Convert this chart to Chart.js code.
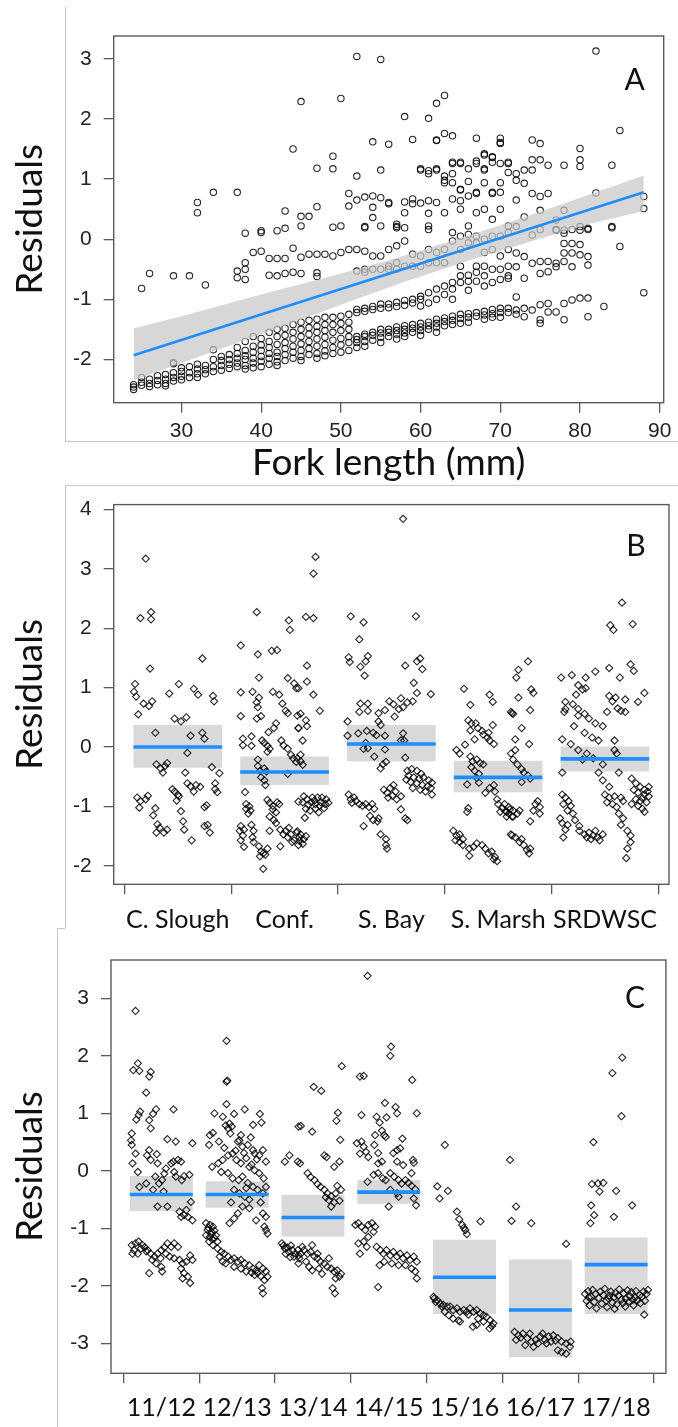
<!DOCTYPE html>
<html>
<head>
<meta charset="utf-8">
<title>Residuals by fork length, site and year</title>
<script src="https://cdn.jsdelivr.net/npm/chart.js@4.4.1/dist/chart.umd.min.js"></script>
<style>
  body { margin: 0; background: #fff; }
  .page { position: relative; width: 678px; height: 1427px; overflow: hidden; }
  canvas { position: absolute; left: 0; }
  .edge { position: absolute; border: 0 solid #c8c8c8; }
</style>
</head>
<body>
<div class="page">
  <canvas id="chartA" width="678" height="485" style="top:0"></canvas>
  <canvas id="chartB" width="678" height="462" style="top:480px"></canvas>
  <canvas id="chartC" width="678" height="499" style="top:928px"></canvas>
  <div class="edge" style="left:65px;top:7px;height:434px;border-left-width:1px"></div>
  <div class="edge" style="left:65px;top:441px;width:613px;border-top-width:1px"></div>
  <div class="edge" style="left:65px;top:485px;width:613px;border-top-width:1px"></div>
  <div class="edge" style="left:65px;top:485px;height:443px;border-left-width:1px"></div>
  <div class="edge" style="left:57px;top:928px;width:8px;border-top-width:1px"></div>
  <div class="edge" style="left:57px;top:928px;height:499px;border-left-width:1px"></div>
</div>
<script>
'use strict'

// ---- panel A: residuals against fork length ----
const lengthTicks = [30, 40, 50, 60, 70, 80, 90]
const residualTicksA = [-2, -1, 0, 1, 2, 3]

// each row: fork length (mm), then the residuals of fish at that length
const residualsByLength = [
  [24, -2.42, -2.46, -2.5],
  [25, -2.3, -2.38, -2.43, -0.82],
  [26, -2.33, -2.4, -2.45, -0.57],
  [27, -2.27, -2.35, -2.42],
  [28, -2.25, -2.33, -2.4, -2.44],
  [29, -2.05, -2.07, -2.22, -2.3, -2.36, -0.61],
  [30, -2.14, -2.2, -2.28, -2.34],
  [31, -2.12, -2.22, -2.3, -0.61],
  [32, -2.08, -2.16, -2.24, -2.3, 0.61, 0.44],
  [33, -2.1, -2.17, -2.24, -0.76],
  [34, -1.84, -2.0, -2.12, -2.2, 0.78],
  [35, -1.95, -2.02, -2.1, -2.18],
  [36, -1.92, -2.0, -2.08, -2.15],
  [37, -1.8, -1.9, -1.98, -2.06, -2.12, -0.53, -0.64, 0.78],
  [38, -1.7, -1.85, -1.94, -2.0, -2.1, -2.16, -0.39, -0.5, -0.67, 0.1],
  [39, -1.62, -1.78, -1.88, -1.98, -2.06, -2.14, -0.22],
  [40, -1.65, -1.76, -1.85, -1.95, -2.03, -2.12, -0.2, 0.11, 0.14],
  [41, -1.55, -1.7, -1.8, -1.9, -1.98, -2.08, -0.32, -0.6],
  [42, -1.5, -1.62, -1.75, -1.88, -1.95, -2.04, -2.1, -0.32, -0.61, 0.14],
  [43, -1.48, -1.6, -1.72, -1.82, -1.92, -2.02, -0.32, -0.57, 0.18, 0.47],
  [44, -1.42, -1.55, -1.66, -1.78, -1.88, -1.98, -0.15, -0.55, 1.5],
  [45, -1.38, -1.5, -1.62, -1.74, -1.85, -1.95, -2.02, -0.3, -0.57, 0.22, 0.38, 2.29],
  [46, -1.35, -1.47, -1.58, -1.7, -1.82, -1.92, -0.25, 0.38],
  [47, -1.33, -1.45, -1.55, -1.66, -1.78, -1.9, -1.98, -0.25, -0.56, -0.62, 0.54, 1.18],
  [48, -1.3, -1.42, -1.52, -1.63, -1.75, -1.86, -1.94, -0.25],
  [49, -1.3, -1.42, -1.55, -1.68, -1.8, -1.9, -0.28, 0.2, 1.17, 1.38],
  [50, -1.28, -1.4, -1.52, -1.65, -1.76, -1.88, -0.22, 0.22, 2.34],
  [51, -1.25, -1.38, -1.5, -1.62, -1.72, -1.85, -0.17, 0.55, 0.76],
  [52, -1.17, -1.22, -1.62, -1.67, -1.72, -1.8, -0.17, -0.53, 0.65, 1.05, 3.04],
  [53, -1.15, -1.2, -1.58, -1.62, -1.7, -1.78, -0.2, -0.5, -0.55, 0.19, 0.21, 0.7],
  [54, -1.12, -1.17, -1.55, -1.6, -1.68, -0.28, -0.5, 0.36, 0.53, 0.72, 1.62],
  [55, -1.08, -1.15, -1.5, -1.56, -1.63, -1.72, -0.28, -0.5, 0.22, 0.69, 1.15, 2.99],
  [56, -1.08, -1.14, -1.5, -1.55, -1.62, -0.17, -0.45, -0.5, 0.59, 0.61, 1.58],
  [57, -1.05, -1.12, -1.46, -1.52, -1.58, -1.66, -0.11, -0.39, -0.5, 0.19, 0.21, 0.25],
  [58, -1.02, -1.1, -1.44, -1.5, -1.56, -1.62, -0.03, -0.45, 0.19, 0.44, 0.62, 2.04],
  [59, -1.0, -1.06, -1.42, -1.48, -1.55, -0.25, -0.45, 0.59, 0.67, 1.66],
  [60, -0.95, -1.0, -1.11, -1.4, -1.46, -1.52, -1.6, -0.28, -0.45, 0.6, 1.15, 1.17],
  [61, -0.89, -1.06, -1.38, -1.44, -1.5, -0.17, -0.39, 0.16, 0.22, 0.43, 0.64, 1.09, 1.14, 2.01],
  [62, -0.83, -1.0, -1.33, -1.4, -1.46, -1.55, -0.22, -0.39, 0.61, 1.15, 1.17, 1.64, 1.65, 2.26],
  [63, -0.78, -0.92, -1.31, -1.37, -1.44, -0.17, -0.39, 0.44, 0.94, 0.98, 1.05, 1.76, 2.39],
  [64, -0.72, -0.83, -1.0, -1.28, -1.35, -1.42, -0.03, 0.11, 0.67, 0.94, 1.09, 1.26, 1.28, 1.72],
  [65, -0.45, -0.61, -0.72, -1.25, -1.32, -1.4, -0.17, 0.05, 0.5, 0.64, 0.82, 0.83, 1.26, 1.28],
  [66, -0.6, -0.7, -0.85, -1.24, -1.3, -1.38, -0.06, 0.08, 0.22, 0.72, 0.96, 1.17],
  [67, -0.45, -0.55, -0.7, -1.22, -1.28, -0.06, 0.05, 0.44, 0.76, 0.78, 1.26, 1.3, 1.68],
  [68, -0.22, -0.45, -0.61, -0.78, -1.2, -1.26, -1.33, 0.0, 0.5, 0.94, 1.15, 1.17, 1.4, 1.42],
  [69, -0.17, -0.5, -0.72, -1.17, -1.24, -1.3, 0.05, 0.33, 0.76, 0.78, 1.28, 1.36, 1.37],
  [70, -0.28, -0.5, -0.67, -1.15, -1.22, -1.3, 0.05, 0.5, 0.78, 0.94, 1.26, 1.59, 1.61, 1.68],
  [71, -0.17, -0.45, -0.61, -0.65, -1.15, -1.22, 0.11, 0.22, 1.11, 1.26, 1.28],
  [72, -0.23, -0.46, -0.96, -1.18, -1.25, 0.21, 0.65, 0.98, 1.09],
  [73, -0.29, -0.65, -1.15, -1.29, 0.37, 0.93, 1.15],
  [74, -0.4, -1.18, 0.07, 0.76, 1.15, 1.32, 1.65],
  [75, -0.37, -0.57, -1.09, -1.34, -1.4, 0.16, 0.48, 0.71, 1.32, 1.59],
  [76, -0.37, -0.54, -1.07, -1.21, 0.76, 1.23],
  [77, -0.4, -0.46, -1.21, 0.15, 0.16, 0.32],
  [78, -0.07, -0.23, -0.37, -1.07, -1.34, 0.1, 0.15, 0.48, 1.23],
  [79, -0.07, -0.23, -0.46, -1.01, 0.16],
  [80, -0.09, -0.26, -0.98, 0.15, 0.21, 1.21, 1.32, 1.51],
  [81, -0.29, -0.43, -0.98, -1.29, 0.16, 0.18],
  [82, 0.77, 3.13],
  [83, -1.12],
  [84, 0.19, 0.21, 1.23],
  [85, -0.12, 1.81],
  [88, -0.89, 0.51, 0.71]
]

// fitted line and its confidence band
const fitLength = [24, 88]
const fitResidual = [-1.93, 0.78]
const bandLength = [24, 30, 40, 50, 58, 66, 74, 82, 88]
const bandUpper = [-1.48, -1.28, -0.92, -0.57, -0.27, 0.06, 0.41, 0.78, 1.06]
const bandLower = [-2.35, -2.06, -1.58, -1.09, -0.71, -0.36, -0.03, 0.28, 0.47]

// ---- panel B: residuals by site ----
const siteNames = ['C. Slough', 'Conf.', 'S. Bay', 'S. Marsh', 'SRDWSC']
const siteMeans = [0.0, -0.42, 0.05, -0.51, -0.2]
const siteLow = [-0.35, -0.64, -0.24, -0.76, -0.41]
const siteHigh = [0.37, -0.16, 0.37, -0.23, 0.01]
const residualTicksB = [-2, -1, 0, 1, 2, 3, 4]

// each point: [jitter from the site position, residual]
const sitePoints = [
  [[-0.3, 3.17], [-0.35, 2.17], [-0.25, 2.27], [-0.25, 2.15], [-0.26, 1.32], [0.23, 1.49], [-0.4, 1.06], [-0.41, 0.93],
    [-0.39, 0.85], [-0.37, 0.55], [-0.32, 0.73], [-0.27, 0.69], [-0.24, 0.77], [-0.08, 0.9], [0.01, 1.06], [0.15, 0.98],
    [0.19, 0.88], [0.33, 0.86], [0.34, 0.77], [-0.21, 0.24], [-0.03, 0.48], [0.03, 0.43], [0.08, 0.5], [0.12, 0.19],
    [0.23, 0.24], [0.25, 0.14], [0.09, -0.1], [-0.2, -0.29], [-0.16, -0.36], [-0.12, -0.32], [-0.1, -0.27], [-0.14, -0.43],
    [0.07, -0.43], [0.32, -0.34], [0.39, -0.44], [-0.05, -0.71], [-0.03, -0.75], [0.0, -0.8], [0.09, -0.61], [0.12, -0.66],
    [0.17, -0.64], [0.21, -0.67], [0.15, -0.75], [0.35, -0.61], [0.35, -0.71], [0.37, -0.76], [-0.38, -0.85], [-0.35, -0.91],
    [-0.3, -0.88], [-0.28, -0.82], [-0.36, -1.02], [-0.01, -0.9], [0.01, -0.83], [-0.21, -1.03], [-0.23, -1.15], [0.03, -1.08],
    [0.25, -1.01], [0.27, -0.98], [-0.19, -1.3], [-0.17, -1.36], [-0.2, -1.44], [-0.13, -1.44], [-0.1, -1.39], [0.05, -1.25],
    [0.06, -1.39], [0.13, -1.57], [0.25, -1.33], [0.28, -1.31], [0.3, -1.44]],
  [[-0.26, 2.27], [-0.41, 1.71], [-0.25, 1.56], [-0.12, 1.62], [-0.07, 1.63], [0.04, 2.13], [0.05, 1.97], [-0.24, 1.17],
    [0.03, 1.16], [0.09, 1.07], [0.11, 0.99], [-0.41, 0.92], [-0.3, 0.93], [-0.24, 0.83], [-0.26, 0.75], [-0.25, 0.67],
    [-0.26, 0.48], [-0.22, 0.52], [-0.41, 0.52], [-0.11, 0.93], [-0.05, 0.88], [-0.02, 0.73], [0.01, 0.61], [0.03, 0.57],
    [0.12, 0.53], [0.13, 0.32], [-0.08, 0.4], [-0.1, 0.32], [-0.15, 0.25], [-0.39, 0.14], [-0.39, 0.03], [-0.31, 0.18],
    [-0.31, 0.02], [-0.21, 0.11], [-0.19, 0.07], [-0.16, 0.02], [-0.14, -0.03], [-0.16, -0.08], [-0.03, 0.11], [-0.01, 0.03],
    [0.03, -0.03], [0.03, -0.45], [0.06, -0.13], [0.08, -0.19], [0.11, -0.25], [0.15, -0.13], [-0.25, -0.21], [-0.25, -0.32],
    [-0.23, -0.4], [-0.19, -0.36], [-0.17, -0.41], [-0.22, -0.51], [-0.19, -0.56], [-0.18, -0.64], [-0.37, -0.76],
    [-0.36, -0.96], [-0.33, -1.0], [-0.36, -1.04], [-0.32, -1.07], [-0.34, -1.12], [-0.16, -0.89], [-0.14, -0.94],
    [-0.11, -0.99], [-0.07, -0.93], [-0.05, -0.96], [-0.11, -1.05], [-0.08, -1.1], [-0.14, -1.17], [-0.1, -1.23],
    [-0.08, -1.28], [-0.14, -1.41], [-0.41, -1.33], [-0.42, -1.41], [-0.38, -1.39], [-0.39, -1.49], [-0.41, -1.57],
    [-0.38, -1.68], [-0.31, -1.31], [-0.29, -1.41], [-0.3, -1.52], [-0.29, -1.6], [-0.24, -1.67], [-0.22, -1.76],
    [-0.2, -1.79], [-0.23, -1.84], [-0.16, -1.71], [-0.18, -1.81], [-0.2, -2.05], [-0.04, -1.39], [-0.01, -1.47],
    [0.01, -1.41], [0.03, -1.52], [0.04, -1.36], [0.06, -1.47], [0.09, -1.57], [0.11, -1.44], [0.14, -1.52], [0.13, -1.65],
    [-0.04, -1.67], [0.07, -1.6], [0.29, 3.2], [0.27, 2.92], [0.2, 2.19], [0.27, 2.17], [0.21, 1.37], [0.21, 1.1],
    [0.27, 0.88], [0.33, 0.61], [0.15, 0.56], [0.2, 0.45], [0.21, 0.35], [0.13, 0.32], [0.17, 0.11], [0.13, 0.99],
    [0.12, -0.19], [0.15, -0.24], [0.17, -0.3], [0.18, -0.83], [0.21, -0.88], [0.26, -0.85], [0.31, -0.85], [0.35, -0.85],
    [0.39, -0.88], [0.17, -0.93], [0.22, -0.97], [0.25, -0.93], [0.29, -0.96], [0.34, -0.93], [0.38, -0.96], [0.2, -1.04],
    [0.24, -1.07], [0.29, -1.04], [0.32, -1.1], [0.37, -1.03], [0.41, -0.94], [0.19, -1.19], [0.13, -0.92], [0.28, -0.9],
    [0.33, -0.99], [0.12, -1.42], [0.15, -1.47], [0.18, -1.55], [0.14, -1.58], [0.17, -1.63], [0.2, -1.5]],
  [[0.11, 3.84], [-0.38, 2.2], [-0.26, 2.1], [-0.3, 1.81], [-0.4, 1.51], [-0.39, 1.43], [-0.29, 1.35], [-0.24, 1.44],
    [-0.22, 1.53], [-0.25, 1.2], [0.23, 2.2], [0.13, 1.37], [0.24, 1.44], [0.27, 1.49], [0.29, 1.31], [0.21, 1.08],
    [0.24, 0.91], [0.37, 0.89], [-0.29, 0.73], [-0.22, 0.73], [-0.3, 0.59], [-0.22, 0.61], [-0.12, 0.57], [-0.06, 0.62],
    [-0.02, 0.77], [0.02, 0.72], [0.07, 0.64], [0.11, 0.67], [0.09, 0.82], [0.15, 0.75], [0.2, 0.77], [0.03, 0.51],
    [-0.41, 0.43], [-0.12, 0.43], [-0.1, 0.37], [-0.06, 0.19], [-0.41, 0.19], [-0.31, 0.23], [-0.23, 0.27], [-0.17, 0.24],
    [-0.14, 0.2], [-0.24, 0.07], [-0.26, -0.03], [-0.22, -0.02], [-0.16, -0.16], [-0.1, -0.36], [-0.08, -0.29],
    [-0.05, -0.25], [-0.06, -0.04], [0.11, 0.23], [0.09, 0.11], [0.12, 0.11], [0.13, -0.18], [0.15, -0.4], [0.19, -0.37],
    [0.24, -0.4], [0.28, -0.45], [0.16, -0.48], [0.21, -0.51], [0.26, -0.53], [0.3, -0.51], [0.35, -0.56], [0.18, -0.59],
    [0.24, -0.61], [0.29, -0.64], [0.34, -0.66], [0.38, -0.6], [0.2, -0.69], [0.27, -0.72], [0.32, -0.75], [0.38, -0.8],
    [0.14, -0.55], [0.37, -0.69], [-0.4, -0.8], [-0.38, -0.88], [-0.35, -0.85], [-0.33, -0.91], [-0.3, -0.96],
    [-0.37, -0.94], [-0.27, -0.99], [-0.24, -0.96], [-0.21, -1.01], [-0.18, -0.96], [-0.16, -1.04], [-0.12, -1.2],
    [-0.26, -1.33], [-0.13, -1.25], [-0.2, -1.16], [-0.17, -1.23], [-0.07, -0.72], [-0.04, -0.77], [-0.01, -0.69],
    [0.01, -0.82], [0.04, -0.75], [0.05, -0.88], [0.09, -0.83], [0.02, -0.64], [-0.03, -0.85], [0.09, -1.05], [0.13, -1.2],
    [0.15, -1.23], [-0.1, -1.47], [-0.05, -1.55], [-0.05, -1.65], [-0.04, -1.71]],
  [[-0.32, 0.98], [-0.26, 0.71], [-0.08, 0.88], [-0.05, 0.76], [0.13, 0.57], [-0.28, 0.45], [-0.25, 0.4], [-0.21, 0.4],
    [-0.26, 0.28], [-0.19, 0.32], [-0.15, 0.27], [-0.14, 0.21], [-0.1, 0.16], [-0.08, 0.11], [-0.04, 0.05], [-0.09, 0.24],
    [-0.05, 0.37], [-0.22, 0.13], [-0.31, 0.04], [-0.39, -0.05], [-0.36, -0.11], [-0.26, -0.16], [-0.24, -0.24],
    [-0.2, -0.21], [-0.17, -0.27], [-0.14, -0.29], [-0.25, -0.34], [-0.22, -0.4], [-0.18, -0.45], [-0.2, -0.52],
    [-0.18, -0.6], [-0.29, -0.63], [-0.12, -0.77], [-0.08, -0.69], [-0.04, -0.64], [-0.03, -0.75], [-0.01, -0.88],
    [0.0, -0.96], [0.04, -1.03], [0.07, -1.08], [0.1, -1.12], [0.11, -1.05], [0.02, -1.09], [0.08, -1.17], [0.13, -1.17],
    [-0.28, -1.03], [-0.29, -1.09], [0.13, -1.49], [-0.42, -1.41], [-0.39, -1.49], [-0.4, -1.57], [-0.36, -1.47],
    [-0.33, -1.55], [-0.36, -1.6], [-0.33, -1.65], [-0.27, -1.71], [-0.27, -1.83], [-0.23, -1.68], [-0.2, -1.62],
    [-0.15, -1.65], [-0.12, -1.71], [-0.09, -1.79], [-0.06, -1.76], [-0.03, -1.85], [-0.01, -1.92], [-0.04, -1.89],
    [0.28, 1.44], [0.19, 1.3], [0.17, 1.17], [0.19, 0.83], [0.31, 0.97], [0.33, 0.91], [0.3, 0.62], [0.14, 0.56],
    [0.12, 0.59], [0.22, 0.32], [0.16, 0.13], [0.12, -0.11], [0.14, -0.21], [0.18, -0.29], [0.22, -0.37], [0.24, -0.43],
    [0.28, -0.48], [0.22, -0.59], [0.3, -0.53], [0.16, -0.05], [0.29, 0.05], [0.3, -1.25], [0.35, -0.96], [0.37, -0.91],
    [0.39, -1.01], [0.33, -1.07], [0.39, -1.12], [0.06, -0.96], [0.1, -1.01], [0.14, -1.07], [0.18, -1.12], [0.08, -1.09],
    [0.14, -1.17], [0.2, -1.07], [0.12, -1.47], [0.16, -1.52], [0.2, -1.6], [0.24, -1.65], [0.27, -1.73], [0.29, -1.79],
    [0.3, -1.71], [0.22, -1.55]],
  [[0.16, 2.43], [0.05, 2.05], [0.08, 1.97], [0.26, 2.07], [-0.41, 1.17], [-0.31, 1.21], [-0.18, 1.17], [-0.09, 1.27],
    [0.04, 1.33], [0.14, 1.17], [0.24, 1.39], [0.27, 1.28], [0.37, 0.91], [0.31, 0.76], [-0.25, 1.04], [-0.21, 0.97],
    [-0.18, 0.99], [-0.27, 0.88], [-0.37, 0.76], [-0.3, 0.72], [-0.37, 0.64], [-0.25, 0.64], [-0.19, 0.56], [0.04, 0.86],
    [0.1, 0.83], [0.07, 0.77], [0.19, 0.8], [0.02, 0.59], [0.12, 0.65], [0.15, 0.61], [0.19, 0.59], [-0.38, 0.59],
    [-0.25, 0.53], [-0.15, 0.48], [-0.09, 0.4], [-0.02, 0.35], [-0.29, 0.35], [-0.19, 0.24], [-0.12, 0.16], [-0.06, 0.11],
    [-0.4, 0.13], [-0.32, 0.05], [-0.25, -0.05], [-0.17, -0.11], [-0.11, -0.19], [-0.21, -0.21], [-0.02, -0.29],
    [0.09, 0.11], [0.09, -0.05], [0.11, -0.11], [-0.4, -0.43], [-0.06, -0.43], [-0.02, -0.56], [0.04, -0.67], [0.13, -0.43],
    [0.25, -0.53], [0.29, -0.61], [0.33, -0.67], [0.37, -0.72], [0.41, -0.67], [0.27, -0.72], [0.31, -0.77], [0.37, -0.8],
    [0.41, -0.83], [0.29, -0.88], [0.33, -0.91], [0.39, -0.93], [0.31, -0.99], [0.35, -1.04], [0.37, -1.09], [0.25, -0.96],
    [0.4, -0.75], [0.35, -0.86], [0.0, -0.8], [0.04, -0.85], [0.09, -0.83], [0.15, -0.85], [0.17, -0.91], [0.07, -0.96],
    [0.11, -1.01], [0.02, -0.93], [0.13, -1.12], [0.17, -1.2], [0.15, -1.31], [0.21, -1.41], [0.24, -1.49], [0.24, -1.6],
    [0.21, -1.71], [0.2, -1.87], [-0.4, -0.8], [-0.37, -0.85], [-0.34, -0.91], [-0.39, -0.96], [-0.32, -0.99],
    [-0.35, -1.07], [-0.3, -1.12], [-0.42, -1.2], [-0.4, -1.28], [-0.37, -1.39], [-0.39, -1.52], [-0.35, -1.31],
    [-0.28, -1.23], [-0.24, -1.33], [-0.24, -1.41], [-0.19, -1.47], [-0.15, -1.44], [-0.11, -1.49], [-0.07, -1.52],
    [-0.02, -1.47], [-0.13, -1.55], [-0.05, -1.57], [-0.09, -1.41], [-0.17, -1.52]]
]

// ---- panel C: residuals by water year ----
const yearNames = ['11/12', '12/13', '13/14', '14/15', '15/16', '16/17', '17/18']
const yearMeans = [-0.41, -0.41, -0.81, -0.37, -1.85, -2.42, -1.63]
const yearLow = [-0.7, -0.64, -1.14, -0.57, -2.49, -3.24, -2.49]
const yearHigh = [-0.09, -0.18, -0.42, -0.16, -1.2, -1.54, -1.16]
const residualTicksC = [-3, -2, -1, 0, 1, 2, 3]

const yearPoints = [
  [[-0.34, 2.78], [-0.31, 1.87], [-0.37, 1.75], [-0.29, 1.74], [-0.14, 1.72], [-0.16, 1.64], [-0.2, 1.36], [-0.28, 1.03],
    [-0.3, 0.97], [-0.33, 0.89], [-0.16, 0.88], [-0.11, 0.99], [-0.07, 1.07], [-0.14, 0.74], [0.16, 1.07], [0.08, 0.55],
    [0.19, 0.51], [0.41, 0.48], [-0.39, 0.65], [-0.4, 0.53], [-0.39, 0.45], [-0.34, 0.3], [-0.38, 0.13], [-0.31, -0.02],
    [-0.19, 0.27], [-0.16, 0.36], [-0.06, 0.29], [-0.14, 0.19], [-0.05, 0.13], [-0.2, -0.22], [-0.29, -0.28], [-0.08, -0.1],
    [-0.03, -0.22], [0.03, -0.36], [-0.11, -0.33], [-0.05, -0.62], [0.08, -0.62], [0.01, -0.16], [0.04, -0.05], [0.06, 0.04],
    [0.13, 0.13], [0.16, 0.16], [0.22, 0.19], [0.26, 0.16], [0.17, -0.02], [0.19, -0.1], [0.27, -0.16], [0.3, -0.09],
    [0.37, -0.07], [0.24, -0.71], [0.3, -0.77], [0.35, -0.8], [0.41, -0.86], [0.33, -0.68], [0.26, -0.8], [0.39, -0.54],
    [-0.39, -1.29], [-0.34, -1.26], [-0.3, -1.23], [-0.25, -1.29], [-0.22, -1.33], [-0.36, -1.38], [-0.31, -1.44],
    [-0.38, -1.44], [-0.18, -1.38], [-0.14, -1.44], [-0.09, -1.49], [-0.05, -1.44], [0.0, -1.38], [0.04, -1.33],
    [0.08, -1.26], [0.13, -1.32], [0.17, -1.26], [0.22, -1.32], [0.06, -1.44], [0.11, -1.49], [-0.07, -1.61], [0.0, -1.67],
    [0.01, -1.75], [-0.16, -1.78], [0.17, -1.52], [0.24, -1.55], [0.28, -1.61], [0.33, -1.58], [0.38, -1.47], [0.41, -1.55],
    [0.26, -1.7], [0.3, -1.78], [0.35, -1.84], [0.38, -1.95], [0.28, -1.87], [-0.12, -1.55], [-0.01, -1.52], [-0.27, -1.35],
    [-0.2, -1.4]],
  [[-0.14, 2.26], [-0.14, 1.55], [-0.13, 1.57], [-0.14, 1.16], [-0.3, 1.0], [-0.19, 0.94], [-0.04, 0.99], [0.1, 1.07],
    [0.21, 0.8], [0.3, 0.99], [0.32, 0.84], [-0.15, 0.79], [-0.1, 0.82], [-0.12, 0.74], [-0.07, 0.77], [-0.09, 0.65],
    [-0.36, 0.62], [-0.32, 0.66], [-0.37, 0.45], [-0.24, 0.51], [0.01, 0.51], [0.03, 0.53], [0.07, 0.42], [0.14, 0.45],
    [0.21, 0.36], [0.23, 0.3], [0.29, 0.27], [0.34, 0.36], [0.38, 0.16], [-0.33, 0.07], [-0.25, 0.13], [-0.19, 0.19],
    [-0.12, 0.27], [-0.06, 0.3], [-0.01, 0.19], [0.05, 0.13], [0.12, 0.22], [0.16, 0.07], [0.23, 0.01], [0.29, -0.04],
    [0.35, -0.13], [-0.12, -0.04], [-0.06, -0.13], [0.02, -0.16], [0.07, -0.1], [0.14, -0.21], [0.21, -0.28], [0.27, -0.33],
    [0.34, -0.39], [0.38, -0.28], [-0.04, -0.33], [0.03, -0.39], [0.1, -0.45], [0.16, -0.5], [0.07, -0.62], [0.01, -0.74],
    [-0.04, -0.83], [-0.1, -0.91], [0.16, -0.65], [0.25, -0.86], [0.34, -0.74], [0.38, -0.8], [0.36, -0.97], [0.4, -1.09],
    [0.38, -1.03], [-0.02, 0.35], [0.09, 0.31], [-0.17, 0.4], [0.19, 0.11], [0.26, 0.2], [-0.21, -0.02], [0.12, -0.3],
    [0.31, -0.55], [-0.08, -0.55], [0.05, 0.62], [0.18, 0.58], [-0.41, -0.91], [-0.36, -0.94], [-0.32, -0.97],
    [-0.39, -1.03], [-0.34, -1.06], [-0.3, -1.04], [-0.41, -1.12], [-0.36, -1.15], [-0.3, -1.17], [-0.26, -1.23],
    [-0.37, -1.23], [-0.32, -1.29], [-0.26, -1.35], [-0.21, -1.41], [-0.23, -1.49], [-0.19, -1.58], [-0.17, -1.44],
    [-0.12, -1.49], [-0.08, -1.55], [-0.04, -1.52], [0.01, -1.58], [0.05, -1.55], [0.1, -1.61], [0.16, -1.64], [0.21, -1.7],
    [0.25, -1.73], [0.29, -1.64], [0.34, -1.7], [0.38, -1.75], [0.4, -1.84], [0.36, -1.9], [0.33, -2.04], [0.34, -2.13],
    [0.12, -1.75], [0.23, -1.81], [0.27, -1.78], [-0.04, -1.67], [0.05, -1.7], [-0.15, -1.61], [-0.38, -0.99],
    [-0.34, -1.1], [-0.28, -1.12], [-0.33, -1.19], [0.19, -1.77], [0.31, -1.83]],
  [[-0.37, 0.16], [-0.31, 0.27], [-0.2, 0.16], [-0.19, 0.77], [0.01, 1.46], [0.11, 1.39], [-0.16, 0.78], [-0.01, 0.68],
    [0.38, 1.82], [0.33, 1.01], [0.31, 0.87], [0.36, 0.54], [-0.17, 0.13], [0.15, 0.27], [0.18, 0.24], [0.28, 0.07],
    [0.35, 0.16], [-0.07, -0.04], [-0.03, -0.11], [0.02, -0.16], [0.06, -0.23], [0.1, -0.28], [0.15, -0.33], [0.19, -0.39],
    [0.24, -0.44], [0.17, -0.46], [0.21, -0.51], [0.28, -0.55], [0.24, -0.62], [0.3, -0.39], [0.35, -0.52], [0.32, -0.26],
    [0.37, -0.33], [-0.41, -1.26], [-0.37, -1.35], [-0.32, -1.41], [-0.36, -1.44], [-0.27, -1.38], [-0.23, -1.44],
    [-0.19, -1.47], [-0.25, -1.49], [-0.19, -1.61], [-0.2, -1.38], [-0.16, -1.44], [-0.12, -1.38], [-0.07, -1.44],
    [-0.03, -1.41], [0.02, -1.49], [0.06, -1.52], [0.1, -1.58], [0.15, -1.61], [0.19, -1.67], [0.24, -1.7], [0.28, -1.75],
    [0.32, -1.73], [0.37, -1.79], [0.3, -1.87], [0.26, -2.04], [0.29, -2.13], [-0.18, -1.52], [-0.09, -1.58], [-0.05, -1.67],
    [-0.01, -1.73], [0.08, -1.7], [0.12, -1.79], [0.35, -1.84], [-0.14, -1.32], [-0.01, -1.29], [0.06, -1.44], [0.21, -1.52],
    [-0.39, -1.3], [-0.34, -1.33], [-0.29, -1.3], [-0.3, -1.5]],
  [[-0.28, 3.39], [0.03, 2.16], [0.02, 2.0], [-0.38, 1.64], [-0.33, 1.65], [0.31, 1.58], [-0.05, 1.18], [0.09, 1.11],
    [0.11, 1.0], [0.37, 1.0], [-0.36, 0.97], [-0.16, 0.94], [-0.03, 0.93], [-0.12, 0.84], [-0.18, 0.62], [-0.09, 0.7],
    [-0.06, 0.62], [-0.04, 0.59], [-0.42, 0.48], [-0.36, 0.51], [-0.33, 0.42], [-0.38, 0.3], [-0.3, 0.33], [-0.27, 0.24],
    [-0.19, 0.45], [-0.14, 0.31], [0.06, 0.31], [0.11, 0.36], [0.18, 0.56], [0.15, 0.39], [-0.14, 0.13], [-0.09, 0.16],
    [0.11, 0.16], [0.19, 0.1], [0.32, 0.19], [0.33, 0.14], [-0.28, -0.19], [-0.2, -0.07], [-0.14, -0.04], [-0.08, -0.13],
    [-0.04, -0.16], [0.02, -0.04], [0.07, -0.1], [0.13, -0.16], [0.17, -0.22], [0.22, -0.16], [0.26, -0.21], [0.3, -0.26],
    [0.35, -0.32], [0.3, -0.04], [0.02, -0.33], [0.11, -0.39], [0.0, -0.62], [0.13, -0.45], [0.33, -0.48], [0.36, -0.6],
    [-0.44, -0.94], [-0.4, -0.91], [-0.36, -0.97], [-0.31, -1.03], [-0.27, -0.94], [-0.22, -0.91], [-0.18, -0.97],
    [-0.2, -1.06], [-0.27, -1.15], [-0.33, -1.23], [-0.29, -1.32], [-0.4, -1.26], [-0.38, -1.44], [-0.12, -1.64],
    [-0.14, -2.02], [-0.11, -1.38], [-0.07, -1.44], [-0.03, -1.38], [0.02, -1.47], [0.06, -1.41], [0.11, -1.49],
    [0.15, -1.44], [0.19, -1.52], [0.24, -1.47], [0.28, -1.55], [0.33, -1.49], [0.37, -1.58], [-0.06, -1.58], [0.04, -1.61],
    [0.13, -1.64], [0.22, -1.64], [0.3, -1.7], [0.35, -1.75], [0.37, -1.87], [-0.16, -1.32]],
  [[-0.26, 0.45], [-0.36, -0.27], [-0.33, -0.48], [-0.22, -0.35], [-0.1, -0.71], [-0.07, -0.84], [-0.03, -0.94],
    [0.01, -1.03], [0.03, -1.1], [-0.01, -0.99], [0.21, -0.88], [-0.41, -2.19], [-0.36, -2.25], [-0.32, -2.31],
    [-0.28, -2.33], [-0.38, -2.28], [-0.23, -2.36], [-0.19, -2.36], [-0.15, -2.42], [-0.1, -2.39], [-0.06, -2.45],
    [-0.01, -2.42], [0.03, -2.45], [0.07, -2.39], [0.12, -2.45], [0.16, -2.42], [0.21, -2.48], [0.25, -2.51], [0.29, -2.54],
    [0.34, -2.6], [0.38, -2.65], [0.33, -2.74], [0.16, -2.68], [0.11, -2.71], [-0.08, -2.6], [-0.15, -2.57], [-0.06, -2.62],
    [-0.26, -2.45], [-0.21, -2.51], [0.18, -2.57], [0.25, -2.62], [-0.4, -2.22], [-0.3, -2.36], [0.05, -2.5], [0.36, -2.7]],
  [[-0.4, 0.19], [-0.38, -0.87], [-0.32, -0.62], [-0.12, -0.91], [0.34, -1.27], [-0.34, -2.8], [-0.29, -2.86],
    [-0.23, -2.83], [-0.17, -2.91], [-0.12, -2.97], [-0.06, -2.94], [0.0, -2.88], [0.06, -2.94], [0.11, -2.88],
    [0.17, -2.86], [0.23, -2.91], [0.28, -2.97], [0.34, -3.0], [0.39, -3.06], [0.28, -3.15], [0.34, -3.18], [0.23, -3.12],
    [0.4, -2.97], [-0.2, -3.03], [-0.09, -3.06], [-0.03, -3.0], [0.08, -3.0], [-0.32, -2.94], [-0.14, -2.83], [0.03, -2.83],
    [0.14, -2.97], [-0.26, -2.9], [0.2, -2.95]],
  [[0.07, 0.95], [-0.05, 1.7], [0.08, 1.97], [-0.3, 0.5], [-0.32, -0.23], [-0.24, -0.22], [-0.17, -0.21], [-0.22, -0.36],
    [0.0, -0.35], [-0.33, -0.6], [-0.29, -0.77], [-0.34, -0.91], [-0.03, -0.8], [0.21, -0.6], [-0.41, -2.14], [-0.39, -2.26],
    [-0.37, -2.09], [-0.35, -2.34], [-0.33, -2.19], [-0.31, -2.07], [-0.29, -2.28], [-0.27, -2.14], [-0.26, -2.39],
    [-0.23, -2.21], [-0.21, -2.1], [-0.19, -2.31], [-0.17, -2.16], [-0.15, -2.05], [-0.13, -2.26], [-0.12, -2.37],
    [-0.09, -2.17], [-0.07, -2.1], [-0.05, -2.29], [-0.03, -2.2], [-0.01, -2.12], [0.01, -2.32], [0.03, -2.17],
    [0.04, -2.06], [0.07, -2.24], [0.09, -2.3], [0.1, -2.13], [0.13, -2.22], [0.15, -2.08], [0.17, -2.27], [0.18, -2.18],
    [0.2, -2.11], [0.23, -2.34], [0.25, -2.2], [0.26, -2.09], [0.28, -2.25], [0.31, -2.16], [0.32, -2.3], [0.34, -2.19],
    [0.36, -2.1], [0.38, -2.26], [0.4, -2.14], [0.42, -2.07], [0.37, -2.5], [-0.02, -2.4], [0.12, -2.36], [-0.36, -2.2],
    [-0.1, -2.22], [0.22, -2.24]]
]

// ---- shared look ----
const ink = 'rgba(0,0,0,0.85)'
const axisGrey = '#5a5a5a'
const fitBlue = '#1f8fff'
const boxGrey = '#d9d9d9'
const bandGrey = 'rgba(200,200,200,0.72)'
const numberFont = { family: 'Liberation Sans', size: 21 }
const wordFont = { family: 'Lato', size: 25 }
const titleFont = { family: 'Lato', size: 37 }
const boxWidth = 0.83

// box round the plot area and the panel letter
const panelFrame = {
  id: 'panelFrame',
  beforeDatasetsDraw (chart) {
    const { ctx, chartArea: a } = chart
    ctx.save()
    ctx.strokeStyle = axisGrey
    ctx.lineWidth = 1.4
    ctx.strokeRect(a.left, a.top, a.right - a.left, a.bottom - a.top)
    ctx.restore()
  },
  afterDraw (chart, args, opts) {
    const { ctx, chartArea: a } = chart
    ctx.save()
    ctx.fillStyle = '#111'
    ctx.font = '30px Lato'
    ctx.textAlign = 'center'
    ctx.textBaseline = 'middle'
    ctx.fillText(opts.letter, a.right + opts.dx, a.top + opts.dy)
    ctx.restore()
  }
}

function tickMarks () {
  return { drawOnChartArea: false, tickLength: 10, color: axisGrey, lineWidth: 1.3 }
}

function residualAxis (min, max, values, width) {
  return {
    min,
    max,
    afterBuildTicks: s => { s.ticks = values.map(v => ({ value: v })) },
    afterFit: s => { s.width = width },
    grid: tickMarks(),
    border: { display: false },
    ticks: { font: numberFont, color: '#222', padding: 12 },
    title: { display: true, text: 'Residuals', font: titleFont, color: '#111', padding: { top: 8, bottom: 0 } }
  }
}

// ---- panel A ----
const pointsA = []
residualsByLength.forEach(([len, ...res]) => res.forEach(r => pointsA.push({ x: len, y: r })))

new Chart(document.getElementById('chartA'), {
  type: 'scatter',
  data: {
    datasets: [
      { data: pointsA, order: 3, pointStyle: 'circle', pointRadius: 3.2, borderWidth: 1.1, borderColor: ink, backgroundColor: 'transparent' },
      { type: 'line', data: bandLength.map((x, i) => ({ x, y: bandLower[i] })), order: 2, borderWidth: 0, pointRadius: 0, fill: false },
      { type: 'line', data: bandLength.map((x, i) => ({ x, y: bandUpper[i] })), order: 2, borderWidth: 0, pointRadius: 0, fill: '-1', backgroundColor: bandGrey, tension: 0.3 },
      { type: 'line', data: fitLength.map((x, i) => ({ x, y: fitResidual[i] })), order: 1, borderColor: fitBlue, borderWidth: 2.6, pointRadius: 0 }
    ]
  },
  options: {
    responsive: false,
    animation: false,
    layout: { padding: { top: 36, right: 14.3, left: 0, bottom: 0 } },
    plugins: { legend: { display: false }, tooltip: { enabled: false }, panelFrame: { letter: 'A', dx: -29, dy: 44 } },
    scales: {
      x: {
        type: 'linear',
        min: 21.5,
        max: 90.5,
        afterBuildTicks: s => { s.ticks = lengthTicks.map(v => ({ value: v })) },
        afterFit: s => { s.height = 82.3 },
        grid: tickMarks(),
        border: { display: false },
        ticks: { font: numberFont, color: '#222', padding: 6 },
        title: { display: true, text: 'Fork length (mm)', font: titleFont, color: '#111', padding: { top: 0, bottom: 0 } }
      },
      y: residualAxis(-2.72, 3.38, residualTicksA, 113.7)
    }
  },
  plugins: [panelFrame]
})

// ---- panels B and C: jittered residuals with group mean and interval ----
function groupChart (canvasId, g) {
  const half = boxWidth / 2
  const points = []
  g.points.forEach((grp, i) => grp.forEach(([dx, y]) => points.push({ x: i + 1 + dx, y })))
  const meanLine = []
  g.means.forEach((m, i) => {
    meanLine.push({ x: i + 1 - half, y: m }, { x: i + 1 + half, y: m }, { x: i + 1.5, y: null })
  })
  return new Chart(document.getElementById(canvasId), {
    type: 'scatter',
    data: {
      datasets: [
        {
          type: 'bar',
          data: g.names.map((n, i) => ({ x: i + 1, y: [g.lows[i], g.highs[i]] })),
          backgroundColor: boxGrey,
          barPercentage: 1,
          categoryPercentage: boxWidth,
          order: 3
        },
        { data: points, order: 2, pointStyle: 'rectRot', pointRadius: 3.6, borderWidth: 1.1, borderColor: ink, backgroundColor: 'transparent' },
        { type: 'line', data: meanLine, order: 1, borderColor: fitBlue, borderWidth: 3.6, pointRadius: 0, spanGaps: false }
      ]
    },
    options: {
      responsive: false,
      animation: false,
      layout: { padding: { top: g.padTop, right: g.padRight, left: 0, bottom: 0 } },
      plugins: { legend: { display: false }, tooltip: { enabled: false }, panelFrame: { letter: g.letter, dx: g.letterDx, dy: g.letterDy } },
      scales: {
        x: {
          type: 'linear',
          offset: false,
          min: g.xMin,
          max: g.xMax,
          afterBuildTicks: s => { s.ticks = g.names.map((n, i) => ({ value: i + 1 })) },
          afterFit: s => { s.height = g.xHeight },
          grid: tickMarks(),
          border: { display: false },
          ticks: { font: wordFont, color: '#111', padding: g.labelPad, autoSkip: false, maxRotation: 0, callback: v => g.names[v - 1] }
        },
        y: residualAxis(g.yMin, g.yMax, g.yTicks, g.yWidth)
      }
    },
    plugins: [panelFrame]
  })
}

groupChart('chartB', {
  names: siteNames, means: siteMeans, lows: siteLow, highs: siteHigh, points: sitePoints,
  yMin: -2.31, yMax: 4.08, yTicks: residualTicksB, xMin: 0.4, xMax: 5.6,
  yWidth: 113.7, xHeight: 57.7, padTop: 5, padRight: 9, labelPad: 11, letter: 'B', letterDx: -33, letterDy: 42
})

groupChart('chartC', {
  names: yearNames, means: yearMeans, lows: yearLow, highs: yearHigh, points: yearPoints,
  yMin: -3.52, yMax: 3.666, yTicks: residualTicksC, xMin: 0.336, xMax: 7.656,
  yWidth: 111, xHeight: 53.7, padTop: 32, padRight: 12.1, labelPad: 10, letter: 'C', letterDx: -31, letterDy: 38
})
</script>
</body>
</html>
